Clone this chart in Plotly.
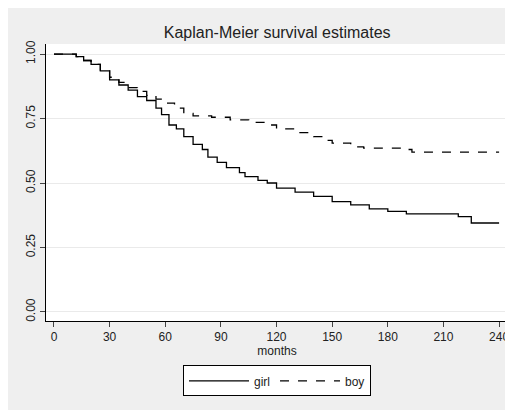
import plotly.graph_objs as go

# step points
girl_t = [0, 8, 12, 16, 20, 25, 30, 35, 40, 45, 50, 55, 58, 62, 66, 70, 75, 80, 83, 88, 93,
          100, 103, 110, 115, 120, 130, 140, 150, 160, 170, 180, 190, 210, 218, 225, 240]
girl_s = [1.0, 1.0, 0.99, 0.975, 0.96, 0.935, 0.9, 0.88, 0.86, 0.835, 0.82, 0.79, 0.765, 0.725,
          0.71, 0.68, 0.65, 0.63, 0.6, 0.58, 0.56, 0.54, 0.525, 0.51, 0.5, 0.48, 0.465, 0.448,
          0.428, 0.415, 0.4, 0.39, 0.38, 0.38, 0.37, 0.345, 0.345]
boy_t = [0, 8, 12, 16, 20, 25, 30, 35, 40, 45, 50, 55, 60, 65, 70, 75, 85, 95, 105, 115, 120,
         130, 140, 147, 150, 160, 167, 190, 193, 240]
boy_s = [1.0, 1.0, 0.99, 0.975, 0.96, 0.935, 0.91, 0.89, 0.87, 0.855, 0.84, 0.825, 0.81, 0.79,
         0.77, 0.76, 0.755, 0.745, 0.735, 0.725, 0.71, 0.695, 0.68, 0.665, 0.655, 0.64, 0.635,
         0.63, 0.62, 0.62]

x_ticks = [0, 30, 60, 90, 120, 150, 180, 210, 240]
y_ticks = [0, 0.25, 0.5, 0.75, 1.0]
y_labels = ['0.00', '0.25', '0.50', '0.75', '1.00']

fig = go.Figure()
fig.add_trace(go.Scatter(x=girl_t, y=girl_s, mode='lines', name='girl', line_shape='hv',
                         line=dict(color='black', width=1.3)))
fig.add_trace(go.Scatter(x=boy_t, y=boy_s, mode='lines', name='boy', line_shape='hv',
                         line=dict(color='black', width=1.3, dash='dash')))

# page body has an 8px margin, so the figure is 8px smaller and shifted
fig.update_layout(
    width=505, height=402,
    margin=dict(l=38, r=5, t=36, b=89),
    paper_bgcolor='#efefef', plot_bgcolor='white',
    font=dict(family='Liberation Sans, Arial', size=12, color='#222'),
    title=dict(text='Kaplan-Meier survival estimates', x=0.533, xanchor='center',
               y=0.94, yanchor='middle', font=dict(size=16)),
    xaxis=dict(range=[-4.3, 244.8], tickvals=x_ticks, showgrid=False, zeroline=False,
               showline=True, linecolor='black', ticks='outside', ticklen=5, automargin=False,
               title=dict(text='months', standoff=0, font=dict(size=12)), tickfont=dict(size=12)),
    yaxis=dict(range=[-0.035, 1.039], tickvals=y_ticks, ticktext=y_labels, tickangle=-90,
               showgrid=True, gridcolor='#eaeaea', zeroline=False, automargin=False,
               showline=True, linecolor='black', ticks='outside', ticklen=5),
    legend=dict(orientation='h', x=0.5, xanchor='center', y=-0.16, yanchor='top',
                bordercolor='black', borderwidth=1, bgcolor='white', itemwidth=60,
                font=dict(size=12)),
)

fig.write_html("out.html")
